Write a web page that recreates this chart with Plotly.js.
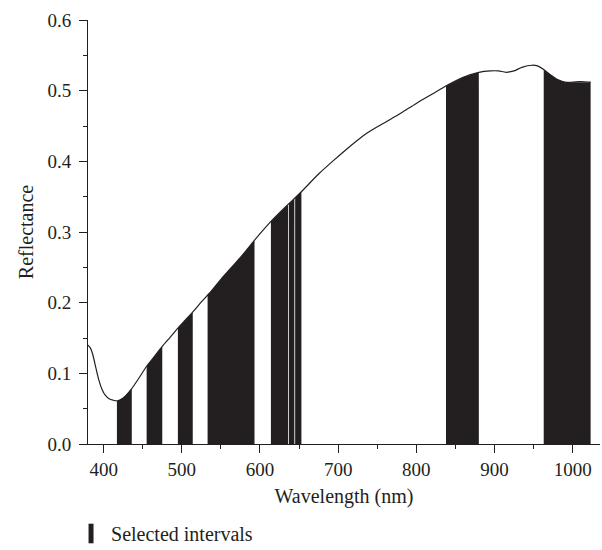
<!DOCTYPE html>
<html>
<head>
<meta charset="utf-8">
<script src="https://cdn.plot.ly/plotly-3.0.1.min.js"></script>
<style>html,body{margin:0;padding:0;background:#fff;}#chart{width:602px;height:550px;}</style>
</head>
<body>
<div id="chart"></div>
<script>
// Reflectance spectrum
const wavelength = [380,383,386,390,394,398,402,407,412,418,425,435,445,455,465,475,485,495,505,515,525,535,550,575,595,615,635,653,675,695,715,737,760,780,800,820,840,860,880,895,905,915,925,935,948,955,963,972,980,990,1000,1010,1023];
const reflectance = [0.140,0.136,0.127,0.108,0.090,0.077,0.069,0.064,0.062,0.061,0.065,0.077,0.093,0.110,0.124,0.138,0.151,0.164,0.176,0.188,0.201,0.213,0.233,0.264,0.291,0.316,0.338,0.357,0.382,0.402,0.421,0.440,0.455,0.468,0.482,0.495,0.508,0.519,0.526,0.528,0.528,0.526,0.528,0.533,0.536,0.535,0.530,0.522,0.516,0.512,0.512,0.513,0.512];
// Selected wavelength intervals
const intervalStart = [417,455,495,533,614,637,645,838,963];
const intervalEnd   = [436,475,514,593,636,644,653,880,1023];
const xTicks = [400,500,600,700,800,900,1000];
const yTicks = [0.0,0.1,0.2,0.3,0.4,0.5,0.6];

function interp(x){
  for(let i=0;i<wavelength.length-1;i++){
    if(x>=wavelength[i] && x<=wavelength[i+1]){
      const t=(x-wavelength[i])/(wavelength[i+1]-wavelength[i]);
      return reflectance[i]+t*(reflectance[i+1]-reflectance[i]);
    }
  }
  return x<wavelength[0]?reflectance[0]:reflectance[reflectance.length-1];
}

const FONT = "'Liberation Serif', 'Times New Roman', serif";
const INK = '#231f20';
const traces = [];
for(let k=0;k<intervalStart.length;k++){
  const a=intervalStart[k], b=intervalEnd[k];
  const xs=[a], ys=[interp(a)];
  for(let i=0;i<wavelength.length;i++){
    if(wavelength[i]>a && wavelength[i]<b){xs.push(wavelength[i]);ys.push(reflectance[i]);}
  }
  xs.push(b); ys.push(interp(b));
  traces.push({x:xs,y:ys,type:'scatter',mode:'lines',fill:'tozeroy',
    fillcolor:INK,line:{color:INK,width:0},showlegend:false,hoverinfo:'skip'});
}
traces.push({x:wavelength,y:reflectance,type:'scatter',mode:'lines',
  line:{color:INK,width:1.2,shape:'spline',smoothing:0.8},showlegend:false,name:'Reflectance'});
traces.push({x:[null],y:[null],type:'scatter',mode:'markers',name:'Selected intervals',
  marker:{symbol:'line-ns',size:14,color:INK,line:{color:INK,width:5}},showlegend:true});

const layout = {
  width:602,height:550,
  margin:{l:88,r:2,t:20,b:106},
  paper_bgcolor:'#fff',plot_bgcolor:'#fff',
  font:{family:FONT,size:19,color:INK},
  xaxis:{range:[380,1035],tickvals:xTicks,ticks:'outside',ticklen:8,tickcolor:INK,
    showline:true,linecolor:INK,linewidth:1,showgrid:false,zeroline:false,
    tickfont:{family:FONT,size:19},
    minor:{dtick:50,ticks:'outside',ticklen:4,tickcolor:INK,showgrid:false},
    title:{text:'Wavelength (nm)',font:{family:FONT,size:20},standoff:10}},
  yaxis:{range:[0,0.6],tickvals:yTicks,tickformat:'.1f',ticks:'outside',ticklen:8,tickcolor:INK,
    showline:true,linecolor:INK,linewidth:1,showgrid:false,zeroline:false,
    tickfont:{family:FONT,size:19},
    minor:{dtick:0.05,ticks:'outside',ticklen:4,tickcolor:INK,showgrid:false},
    ticklabelstandoff:4,
    title:{text:'Reflectance',font:{family:FONT,size:20},standoff:8}},
  legend:{xref:'container',yref:'container',x:0.118,xanchor:'left',y:0.03,yanchor:'middle',orientation:'h',
    font:{family:FONT,size:20},bgcolor:'rgba(0,0,0,0)',itemwidth:30},
  showlegend:true
};
Plotly.newPlot('chart',traces,layout,{displayModeBar:false,staticPlot:true});
</script>
</body>
</html>
